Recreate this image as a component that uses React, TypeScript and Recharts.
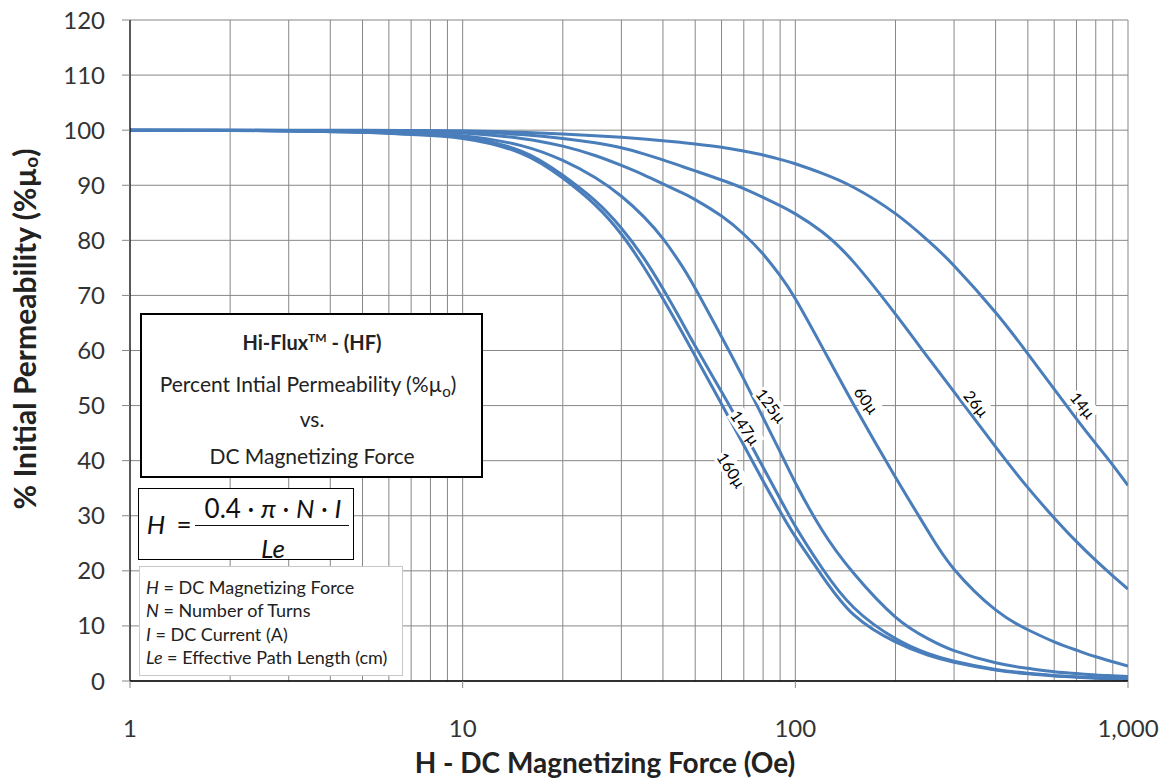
import React from 'react';
import { LineChart, Line, XAxis, YAxis, CartesianGrid, ReferenceLine, ReferenceDot } from 'recharts';

// H - DC magnetizing force (Oe)
const H_VALUES = [1, 2, 3, 5, 7, 10, 15, 20, 25, 30, 35, 40, 45, 50, 60, 70, 80, 90, 100, 120, 150, 200, 250, 300, 400, 500, 600, 700, 800, 900, 1000];

// % initial permeability for each material
const PERM_14U = [100, 100, 100, 100, 99.95, 99.9, 99.6, 99.3, 99.0, 98.7, 98.4, 98.1, 97.8, 97.5, 96.9, 96.2, 95.5, 94.7, 93.9, 92.2, 89.6, 84.85, 80.0, 75.4, 66.9, 59.4, 53.0, 47.6, 43.1, 39.2, 35.5];
const PERM_26U = [100, 100, 99.95, 99.9, 99.8, 99.7, 99.2, 98.5, 97.7, 96.8, 95.7, 94.6, 93.55, 92.6, 90.95, 89.4, 87.8, 86.3, 84.8, 81.6, 76, 66.6, 58.8, 52.5, 42.5, 35.1, 29.6, 25.3, 21.9, 19.1, 16.7];
const PERM_60U = [100, 100, 99.9, 99.8, 99.7, 99.5, 98.5, 97.1, 95.4, 93.6, 91.9, 90.25, 88.8, 87.4, 84.4, 81.1, 77.5, 73.6, 69.4, 60.8, 50.1, 37.0, 27.3, 20.3, 12.9, 9.3, 7.1, 5.6, 4.4, 3.5, 2.7];
const PERM_125U = [100, 99.95, 99.9, 99.7, 99.4, 99, 97.2, 94.5, 91.4, 88, 84.3, 80.3, 75.9, 71.3, 62.5, 54.8, 47.8, 41.6, 36, 27.5, 19.5, 11.6, 7.7, 5.5, 3.3, 2.3, 1.7, 1.35, 1.1, 0.95, 0.8];
const PERM_147U = [100, 99.95, 99.85, 99.6, 99.3, 98.7, 96.2, 91.8, 87.2, 82.2, 76.8, 71.2, 65.8, 60.8, 52.5, 45.3, 38.8, 33.1, 28.1, 20.6, 13.3, 7.7, 5, 3.6, 2.1, 1.4, 1, 0.75, 0.6, 0.5, 0.4];
const PERM_160U = [100, 99.95, 99.85, 99.6, 99.2, 98.5, 95.8, 91.3, 86.45, 81.1, 75.2, 69.4, 64.0, 59.0, 50.3, 42.8, 36.3, 30.8, 26.2, 19.2, 12.0, 7.1, 4.7, 3.4, 2.0, 1.3, 0.9, 0.7, 0.5, 0.4, 0.3];

const SERIES_NAMES = ['14µ', '26µ', '60µ', '125µ', '147µ', '160µ'];
const SERIES_VALUES = [PERM_14U, PERM_26U, PERM_60U, PERM_125U, PERM_147U, PERM_160U];

// curve label anchor (H, %) and angle
const LABEL_H = [733, 351, 164, 84.8, 70.9, 64.4];
const LABEL_PCT = [50.1, 50.4, 51, 50, 46, 38.3];
const LABEL_ANGLE = [51, 51, 54.5, 52.6, 55.6, 57.7];

const X_TICKS = [1, 10, 100, 1000];
const Y_TICKS = [0, 10, 20, 30, 40, 50, 60, 70, 80, 90, 100, 110, 120];
const MINOR_GRID_H = [2, 3, 4, 5, 6, 7, 8, 9, 10, 20, 30, 40, 50, 60, 70, 80, 90, 100, 200, 300, 400, 500, 600, 700, 800, 900, 1000];

const FONT = 'Lato, "Open Sans", sans-serif';
const CURVE_COLOR = '#4A7EBB';
const GRID_COLOR = '#878787';

const seriesData = SERIES_VALUES.map((vals) => H_VALUES.map((h, i) => ({ h, v: vals[i] })));

const makeLabelShape = (text: string, angle: number) => (props: any) => {
  const { cx, cy } = props;
  if (cx == null || cy == null) return <g />;
  const w = text.length * 9 + 4;
  return (
    <g transform={`translate(${cx},${cy}) rotate(${angle})`}>
      <rect x={-w / 2} y={-9.5} width={w} height={19} fill="#fff" />
      <text x={0} y={0} textAnchor="middle" dominantBaseline="central" fontSize={16} fontFamily={FONT} fill="#000">
        {text}
      </text>
    </g>
  );
};

const XTitle = () => (
  <text x={605} y={762} textAnchor="middle" dominantBaseline="central" fontSize={28} fontWeight={700} fontFamily={FONT} fill="#222">
    H - DC Magnetizing Force (Oe)
  </text>
);

const YTitle = () => (
  <text
    x={24}
    y={329}
    transform="rotate(-90 24 329)"
    textAnchor="middle"
    dominantBaseline="central"
    fontSize={30}
    fontWeight={700}
    fontFamily={FONT}
    fill="#222"
  >
    % Initial Permeability (%µ
    <tspan fontSize={19} dy={6}>o</tspan>
    <tspan dy={-6}>)</tspan>
  </text>
);

const center: React.CSSProperties = { position: 'absolute', transform: 'translate(-50%, -50%)', whiteSpace: 'nowrap', lineHeight: 1 };

export default function App() {
  return (
    <div style={{ position: 'relative', width: 1167, height: 778, marginLeft: -8, marginTop: -8, fontFamily: FONT }}>
      <LineChart width={1167} height={778} margin={{ top: 20, right: 39, bottom: 37, left: 50 }}>
        <CartesianGrid vertical={false} stroke={GRID_COLOR} strokeWidth={1} />
        {MINOR_GRID_H.map((h) => (
          <ReferenceLine key={h} x={h} stroke={GRID_COLOR} strokeWidth={1} />
        ))}
        <XAxis
          dataKey="h"
          type="number"
          scale="log"
          domain={[1, 1000]}
          ticks={X_TICKS}
          allowDataOverflow
          height={60}
          tickSize={7}
          tickMargin={32}
          tickLine={{ stroke: GRID_COLOR }}
          axisLine={{ stroke: '#000', strokeWidth: 1.3 }}
          tick={{ fontSize: 24, fill: '#333', fontFamily: FONT }}
          tickFormatter={(v: number) => v.toLocaleString('en-US')}
          label={<XTitle />}
        />
        <YAxis
          type="number"
          domain={[0, 120]}
          ticks={Y_TICKS}
          width={80}
          tickSize={8}
          tickMargin={17}
          tickLine={{ stroke: GRID_COLOR }}
          axisLine={{ stroke: '#000', strokeWidth: 1.3 }}
          tick={{ fontSize: 24, fill: '#333', fontFamily: FONT }}
          label={<YTitle />}
        />
        {seriesData.map((d, i) => (
          <Line
            key={SERIES_NAMES[i]}
            data={d}
            dataKey="v"
            name={SERIES_NAMES[i]}
            type="natural"
            stroke={CURVE_COLOR}
            strokeWidth={3}
            dot={false}
            activeDot={false}
            isAnimationActive={false}
          />
        ))}
        {SERIES_NAMES.map((name, i) => (
          <ReferenceDot
            key={'lbl' + name}
            x={LABEL_H[i]}
            y={LABEL_PCT[i]}
            r={1}
            shape={makeLabelShape(name, LABEL_ANGLE[i])}
            zIndex={2500}
          />
        ))}
      </LineChart>

      {/* Title box */}
      <div
        style={{
          position: 'absolute', left: 140, top: 313, width: 343, height: 165, boxSizing: 'border-box',
          border: '2px solid #000', background: '#fff', color: '#222', fontSize: 21,
        }}
      >
        <span style={{ ...center, left: 170, top: 27, fontWeight: 700, fontSize: 20 }}>
          Hi-Flux<span style={{ fontSize: 12, position: 'relative', top: -8 }}>TM</span> - (HF)
        </span>
        <span style={{ ...center, left: 166, top: 68 }}>
          Percent Intial Permeability (%µ<span style={{ fontSize: 15, position: 'relative', top: 5 }}>o</span>)
        </span>
        <span style={{ ...center, left: 170, top: 103 }}>vs.</span>
        <span style={{ ...center, left: 170, top: 140 }}>DC Magnetizing Force</span>
      </div>

      {/* Formula box */}
      <div
        style={{
          position: 'absolute', left: 138, top: 488, width: 216, height: 72, boxSizing: 'border-box',
          border: '1.5px solid #000', background: '#fff', color: '#111', fontSize: 26,
        }}
      >
        <span style={{ ...center, left: 17, top: 35, fontStyle: 'italic' }}>H</span>
        <span style={{ ...center, left: 45, top: 35 }}>=</span>
        <span style={{ ...center, left: 134, top: 19 }}>
          0.4 · <i>π</i> · <i>N</i> · <i>I</i>
        </span>
        <div style={{ position: 'absolute', left: 56, top: 36, width: 154, height: 0, borderTop: '1.5px solid #111' }} />
        <span style={{ ...center, left: 134, top: 59, fontStyle: 'italic' }}>Le</span>
      </div>

      {/* Variables box */}
      <div
        style={{
          position: 'absolute', left: 139, top: 566, width: 264, height: 110, boxSizing: 'border-box',
          border: '1px solid #c8c8c8', background: '#fff', color: '#222', fontSize: 18,
          paddingLeft: 6, paddingTop: 9, lineHeight: '23.3px', whiteSpace: 'nowrap',
        }}
      >
        <div><i>H</i> = DC Magnetizing Force</div>
        <div><i>N</i> = Number of Turns</div>
        <div><i>I</i> = DC Current (A)</div>
        <div><i>Le</i> = Effective Path Length (cm)</div>
      </div>
    </div>
  );
}
